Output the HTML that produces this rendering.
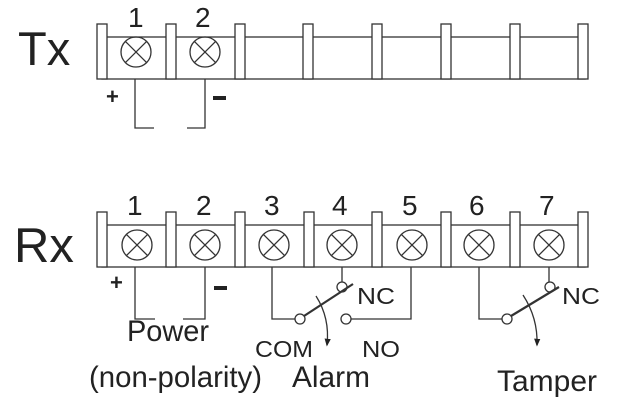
<!DOCTYPE html>
<html><head><style>body{margin:0;background:#fff}svg{display:block}</style></head><body>
<svg width="618" height="410" xmlns="http://www.w3.org/2000/svg" font-family="Liberation Sans, Arial, sans-serif" fill="#222">
<defs>
<marker id="ah" viewBox="0 0 10 10" refX="8" refY="5" markerWidth="6" markerHeight="8" orient="auto"><path d="M0,1 L10,5 L0,9 z" fill="#222"/></marker>
<g id="sc"><circle cx="0" cy="0" r="15"/><path d="M-10.6,-10.6 L10.6,10.6 M10.6,-10.6 L-10.6,10.6"/></g>
</defs>
<text x="18" y="65" font-size="47">Tx</text>
<text x="14" y="262" font-size="49">Rx</text>
<g stroke="#333" stroke-width="1.3" fill="#fff">
<rect x="102" y="37" width="483" height="42"/>
<rect x="97" y="24" width="10" height="55"/><rect x="166" y="24" width="10" height="55"/><rect x="235" y="24" width="10" height="55"/><rect x="303" y="24" width="10" height="55"/><rect x="372" y="24" width="10" height="55"/><rect x="441" y="24" width="10" height="55"/><rect x="510" y="24" width="10" height="55"/><rect x="578" y="24" width="10" height="55"/>
<rect x="102" y="225" width="483" height="42"/>
<rect x="97" y="212" width="10" height="55"/><rect x="166" y="212" width="10" height="55"/><rect x="235" y="212" width="10" height="55"/><rect x="304" y="212" width="10" height="55"/><rect x="372" y="212" width="10" height="55"/><rect x="441" y="212" width="10" height="55"/><rect x="510" y="212" width="10" height="55"/><rect x="578" y="212" width="10" height="55"/>
</g>
<g stroke="#333" stroke-width="1.3" fill="none">
<use href="#sc" x="136" y="52"/><use href="#sc" x="205" y="52"/>
<use href="#sc" x="137" y="245"/><use href="#sc" x="205" y="245"/><use href="#sc" x="274" y="245"/><use href="#sc" x="342" y="245"/><use href="#sc" x="412" y="245"/><use href="#sc" x="479" y="245"/><use href="#sc" x="549" y="245"/>
<path d="M135,79 V128 H154 M205,79 V128 H187"/>
<path d="M135,267 V319 H155 M205,267 V319 H183"/>
<path d="M272,267 V319 H295 M342,267 V282 M351,319 H411 V267"/>
<circle cx="300" cy="319" r="5" fill="#fff"/><circle cx="342" cy="287" r="5" fill="#fff"/><circle cx="346" cy="319" r="5" fill="#fff"/>
<path d="M304,316 L353,284" stroke-width="2.2"/>
<path d="M316,296 Q330,318 327,345" marker-end="url(#ah)"/>
<path d="M479,267 V319 H502 M549,267 V282"/>
<circle cx="507" cy="319" r="5" fill="#fff"/><circle cx="550" cy="287" r="5" fill="#fff"/>
<path d="M511,316 L559,287" stroke-width="2.2"/>
<path d="M523,295 Q538,318 537,345" marker-end="url(#ah)"/>
</g>
<g font-size="28">
<text x="128" y="27">1</text><text x="195" y="27">2</text>
<text x="127" y="215">1</text><text x="196" y="215">2</text><text x="264" y="215">3</text><text x="332" y="215">4</text><text x="402" y="215">5</text><text x="469" y="215">6</text><text x="539" y="215">7</text>
</g>
<text x="106" y="104" font-size="22" font-weight="bold">+</text>
<rect x="213" y="96" width="13" height="4"/>
<text x="110" y="290" font-size="22" font-weight="bold">+</text>
<rect x="214" y="286" width="13" height="4"/>
<g font-size="23">
<text x="357" y="304" textLength="38" lengthAdjust="spacingAndGlyphs">NC</text><text x="562" y="304" textLength="38" lengthAdjust="spacingAndGlyphs">NC</text>
<text x="255" y="357" textLength="58" lengthAdjust="spacingAndGlyphs">COM</text><text x="362" y="357" textLength="38" lengthAdjust="spacingAndGlyphs">NO</text>
</g>
<g font-size="30">
<text x="127" y="341" textLength="82" lengthAdjust="spacingAndGlyphs">Power</text>
<text x="89" y="387" textLength="173" lengthAdjust="spacingAndGlyphs">(non-polarity)</text>
<text x="292" y="387" textLength="78" lengthAdjust="spacingAndGlyphs">Alarm</text>
<text x="497" y="391" textLength="100" lengthAdjust="spacingAndGlyphs">Tamper</text>
</g>
</svg>
</body></html>
